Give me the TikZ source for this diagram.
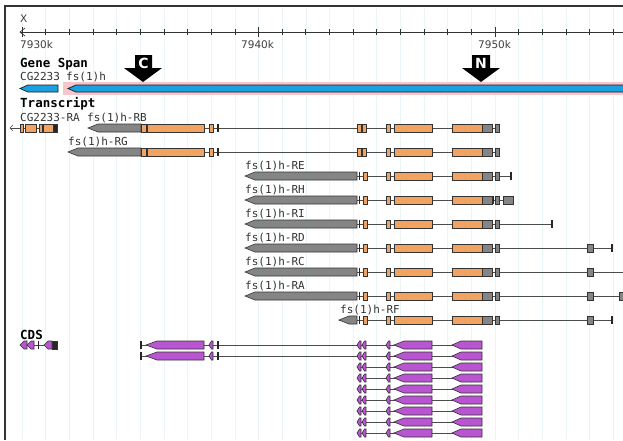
\documentclass[tikz,border=0pt]{standalone}
\usepackage{fontspec}
\setmainfont{DejaVu Sans Mono}
\newfontfamily\rulerfont{DejaVu Sans}
\definecolor{spanblue}{HTML}{1BA1E2}
\definecolor{spanpink}{HTML}{F7C6CC}
\definecolor{exonorange}{HTML}{F2A362}
\definecolor{utrgray}{HTML}{858585}
\definecolor{cdspurple}{HTML}{B955D0}
\definecolor{gridblue}{HTML}{EAF5F8}
\definecolor{exonline}{HTML}{333333}
\tikzset{
    tracklabel/.style={
        anchor=base west,
        inner sep=0pt,
        font=\fontsize{11}{11}\selectfont,
        text=black!80
    },
    tracktitle/.style={
        anchor=base west,
        inner sep=0pt,
        font=\fontsize{12.5}{12.5}\selectfont\bfseries
    },
    rulerlabel/.style={
        anchor=base west,
        inner sep=0pt,
        font=\rulerfont\fontsize{10.5}{10.5}\selectfont,
        text=black!75
    },
    markerletter/.style={
        inner sep=0pt,
        text=white,
        font=\rulerfont\bfseries\fontsize{14}{14}\selectfont
    },
    codingexon/.style={draw=exonline, fill=exonorange, line width=0.6pt},
    utrexon/.style={draw=exonline, fill=utrgray, line width=0.6pt},
    cdsexon/.style={draw=exonline, fill=cdspurple, line width=0.6pt},
    darkexon/.style={draw=exonline, fill=black!85, line width=0.6pt},
    spanbar/.style={draw=black!90, fill=spanblue, line width=0.7pt},
    intronline/.style={draw=black!70, line width=0.6pt},
    endtick/.style={draw=black!85, line width=1.3pt},
    rulerline/.style={draw=black!80, line width=0.7pt},
    gridline/.style={draw=gridblue, line width=0.6pt}
}
% boxes and arrows on one track row
\newcommand{\exon}[4]{\draw[#4] (#1,#3-4) rectangle (#2,#3+4);}
\newcommand{\pointbox}[5]{\draw[#5] (#1,#3) -- (#1+#4,#3-4) -- (#2,#3-4) -- (#2,#3+4) -- (#1+#4,#3+4) -- cycle;}
\newcommand{\intron}[3]{\draw[intronline] (#1,#3) -- (#2,#3);}
\newcommand{\stopmark}[2]{\draw[endtick] (#1,#2-4) -- (#1,#2+4);}
\newcommand{\coretail}[1]{%
    \exon{386}{390}{#1}{codingexon}
    \exon{394}{432}{#1}{codingexon}
    \exon{452}{482}{#1}{codingexon}
    \exon{482}{492}{#1}{utrexon}
    \exon{495}{499}{#1}{utrexon}}
\newcommand{\lateleft}[1]{%
    \pointbox{245}{357}{#1}{10}{utrexon}
    \stopmark{359.5}{#1}
    \exon{363}{367}{#1}{codingexon}}
\newcommand{\cdstail}[1]{%
    \intron{357}{482}{#1}
    \pointbox{357}{361}{#1}{2.5}{cdsexon}
    \pointbox{362}{366}{#1}{2.5}{cdsexon}
    \pointbox{386}{390}{#1}{2.5}{cdsexon}
    \pointbox{394}{432}{#1}{10}{cdsexon}
    \pointbox{452}{482}{#1}{9}{cdsexon}}

\begin{document}
\begin{tikzpicture}[x=1pt,y=-1pt]
    \useasboundingbox (0,0) rectangle (623,440);
    \fill[white] (0,0) rectangle (623,440);

    % grid
    \foreach \k in {0,...,25}
        \draw[gridline] ({22+23.65*\k},8) -- ({22+23.65*\k},440);

    % ruler
    \node[rulerlabel] (axisname) at (20,22) {X};
    \draw[rulerline] (20,32) -- (630,32);
    \draw[rulerline] (25,28) -- (20,32) -- (25,36);
    \foreach \k in {0,...,25}
        \draw[rulerline] ({22+23.65*\k},29) -- ({22+23.65*\k},35);
    \foreach \k in {0,10,20}
        \draw[rulerline] ({22+23.65*\k},27) -- ({22+23.65*\k},37);
    \node[rulerlabel] (pos7930) at (20,48) {7930k};
    \node[rulerlabel] (pos7940) at (241,48) {7940k};
    \node[rulerlabel] (pos7950) at (478,48) {7950k};

    % gene span
    \node[tracktitle] (genespan) at (20,67) {Gene Span};
    \node[tracklabel] (spancg) at (20,80) {CG2233};
    \node[tracklabel] (spanfs) at (66,80) {fs(1)h};
    \fill[spanpink] (63,82) rectangle (630,95);
    \draw[spanbar] (20,88.5) -- (28,85) -- (58,85) -- (58,92) -- (28,92) -- cycle;
    \draw[spanbar] (68,88.5) -- (76,85) -- (630,85) -- (630,92) -- (76,92) -- cycle;
    \fill[black] (135,55) -- (152,55) -- (152,68) -- (162,68) -- (143,82)
        -- (124,68) -- (135,68) -- cycle;
    \node[markerletter] (markc) at (143.5,63) {C};
    \fill[black] (472,55) -- (490,55) -- (490,68) -- (500,68) -- (481,82)
        -- (462,68) -- (472,68) -- cycle;
    \node[markerletter] (markn) at (481,63) {N};

    % transcripts
    \node[tracktitle] (transcript) at (20,107) {Transcript};
    \node[tracklabel] (cgra) at (20,121) {CG2233-RA};
    \node[tracklabel] (fsrb) at (87,121) {fs(1)h-RB};
    \node[tracklabel] (fsrg) at (68,145) {fs(1)h-RG};
    \node[tracklabel] (fsre) at (245,169) {fs(1)h-RE};
    \node[tracklabel] (fsrh) at (245,193) {fs(1)h-RH};
    \node[tracklabel] (fsri) at (245,217) {fs(1)h-RI};
    \node[tracklabel] (fsrd) at (245,241) {fs(1)h-RD};
    \node[tracklabel] (fsrc) at (245,265) {fs(1)h-RC};
    \node[tracklabel] (fsra) at (245,289) {fs(1)h-RA};
    \node[tracklabel] (fsrf) at (340,313) {fs(1)h-RF};

    % CG2233-RA
    \intron{10}{57}{128}
    \draw[intronline] (13,125) -- (10,128) -- (13,131);
    \exon{20}{23}{128}{codingexon}
    \exon{25}{36}{128}{codingexon}
    \exon{39}{42}{128}{codingexon}
    \exon{43}{53}{128}{codingexon}
    \exon{53}{57}{128}{darkexon}

    % RB and RG
    \foreach \rowy/\start in {128/88,152/68} {
        \intron{140}{499}{\rowy}
        \pointbox{\start}{141}{\rowy}{10}{utrexon}
        \exon{141}{146}{\rowy}{codingexon}
        \exon{147}{204}{\rowy}{codingexon}
        \exon{209}{213}{\rowy}{codingexon}
        \stopmark{218}{\rowy}
        \exon{357}{361}{\rowy}{codingexon}
        \exon{362}{366}{\rowy}{codingexon}
        \coretail{\rowy}
    }

    % RE
    \intron{357}{511}{176}
    \lateleft{176}
    \coretail{176}
    \stopmark{511}{176}
    % RH
    \intron{357}{513}{200}
    \lateleft{200}
    \coretail{200}
    \stopmark{493.5}{200}
    \exon{503}{513}{200}{utrexon}
    % RI
    \intron{357}{552}{224}
    \lateleft{224}
    \coretail{224}
    \stopmark{552}{224}
    % RD
    \intron{357}{612}{248}
    \lateleft{248}
    \coretail{248}
    \exon{587}{593}{248}{utrexon}
    \stopmark{612}{248}
    % RC
    \intron{357}{630}{272}
    \lateleft{272}
    \coretail{272}
    \exon{587}{593}{272}{utrexon}
    % RA
    \intron{357}{630}{296}
    \lateleft{296}
    \coretail{296}
    \exon{587}{593}{296}{utrexon}
    \exon{619}{626}{296}{utrexon}
    % RF
    \intron{339}{612}{320}
    \pointbox{339}{357}{320}{10}{utrexon}
    \stopmark{359.5}{320}
    \exon{363}{367}{320}{codingexon}
    \coretail{320}
    \exon{587}{593}{320}{utrexon}
    \stopmark{612}{320}

    % CDS
    \node[tracktitle] (cds) at (20,339) {CDS};
    \intron{20}{57}{345}
    \pointbox{20}{27}{345}{4}{cdsexon}
    \pointbox{27}{34}{345}{4}{cdsexon}
    \stopmark{38.5}{345}
    \pointbox{44}{52}{345}{4}{cdsexon}
    \exon{52}{57}{345}{darkexon}
    \foreach \rowy in {345,356} {
        \intron{140}{357}{\rowy}
        \stopmark{141}{\rowy}
        \pointbox{146}{204}{\rowy}{11}{cdsexon}
        \pointbox{209}{213}{\rowy}{2.5}{cdsexon}
        \stopmark{218}{\rowy}
    }
    \foreach \rowy in {345,356,367,378,389,400,411,422,433} {
        \cdstail{\rowy}
    }

    % frame
    \draw[black!80, line width=1.6pt] (5,440) -- (5,6) -- (630,6);
\end{tikzpicture}
\end{document}
